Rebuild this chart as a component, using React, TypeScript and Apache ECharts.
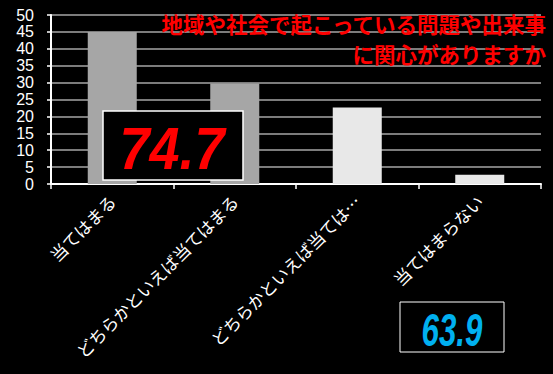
import React, { useEffect, useRef } from "react";
import * as echarts from "echarts";

const categories = ["当てはまる", "どちらかといえば当てはまる", "どちらかといえば当ては…", "当てはまらない"];
const values = [45, 29.7, 22.6, 2.7];
const yTicks = { min: 0, max: 50, interval: 5 };
const titleLines = ["地域や社会で起こっている問題や出来事", "に関心がありますか"];
const highlightValue = "74.7";
const compareValue = "63.9";

const barColors = ["#a6a6a6", "#a6a6a6", "#e8e8e8", "#e8e8e8"];

export default function App() {
  const ref = useRef<HTMLDivElement>(null);
  useEffect(() => {
    if (!ref.current) return;
    const chart = echarts.init(ref.current, null, { renderer: "svg" });
    chart.setOption({
      animation: false,
      backgroundColor: "#000000",
      grid: { left: 51, right: 12, top: 15, bottom: 190, containLabel: false },
      xAxis: {
        type: "category",
        data: categories,
        axisLine: { show: true, lineStyle: { color: "#ffffff", width: 2 } },
        axisTick: { show: true, length: 5, lineStyle: { color: "#ffffff", width: 1.5 } },
        axisLabel: {
          rotate: 45,
          interval: 0,
          color: "#ffffff",
          fontSize: 17,
          margin: 14,
          fontFamily: "Noto Sans CJK JP",
        },
        splitLine: { show: false },
      },
      yAxis: {
        type: "value",
        min: yTicks.min,
        max: yTicks.max,
        interval: yTicks.interval,
        axisLine: { show: true, lineStyle: { color: "#ffffff", width: 2 } },
        axisTick: { show: true, length: 4, lineStyle: { color: "#ffffff", width: 1.5 } },
        axisLabel: {
          color: "#ffffff",
          fontSize: 16,
          lineHeight: 16,
          margin: 17,
          fontFamily: "Liberation Sans",
        },
        splitLine: { show: true, lineStyle: { color: "#a6a6a6", width: 1.5 } },
      },
      series: [
        {
          type: "bar",
          data: values.map((v, i) => ({ value: v, itemStyle: { color: barColors[i] } })),
          barWidth: "40%",
        },
      ],
      graphic: [
        {
          type: "text",
          x: 546,
          y: 23,
          z: 100,
          style: {
            text: titleLines[0],
            align: "right",
            verticalAlign: "middle",
            fill: "#ff0000",
            font: "bold 21.5px 'Noto Sans CJK JP'",
          },
        },
        {
          type: "text",
          x: 546,
          y: 53,
          z: 100,
          style: {
            text: titleLines[1],
            align: "right",
            verticalAlign: "middle",
            fill: "#ff0000",
            font: "bold 21.5px 'Noto Sans CJK JP'",
          },
        },
        {
          type: "rect",
          z: 100,
          shape: { x: 103, y: 111, width: 140, height: 69 },
          style: { fill: "#000000", stroke: "#ffffff", lineWidth: 1.5 },
        },
        {
          type: "text",
          z: 101,
          x: 172,
          y: 148,
          scaleX: 0.9,
          style: {
            text: highlightValue,
            align: "center",
            verticalAlign: "middle",
            fill: "#ff0000",
            font: "italic bold 60px 'Liberation Sans'",
          },
        },
        {
          type: "rect",
          z: 100,
          shape: { x: 400, y: 302, width: 104, height: 50 },
          style: { fill: "#000000", stroke: "#ffffff", lineWidth: 1 },
        },
        {
          type: "text",
          z: 101,
          x: 452,
          y: 330,
          scaleX: 0.68,
          style: {
            text: compareValue,
            align: "center",
            verticalAlign: "middle",
            fill: "#00b0f0",
            font: "italic bold 46px 'Liberation Sans'",
          },
        },
      ],
    });
    return () => chart.dispose();
  }, []);
  return (
    <div
      ref={ref}
      style={{ position: "fixed", left: 0, top: 0, width: 553, height: 374 }}
    />
  );
}
